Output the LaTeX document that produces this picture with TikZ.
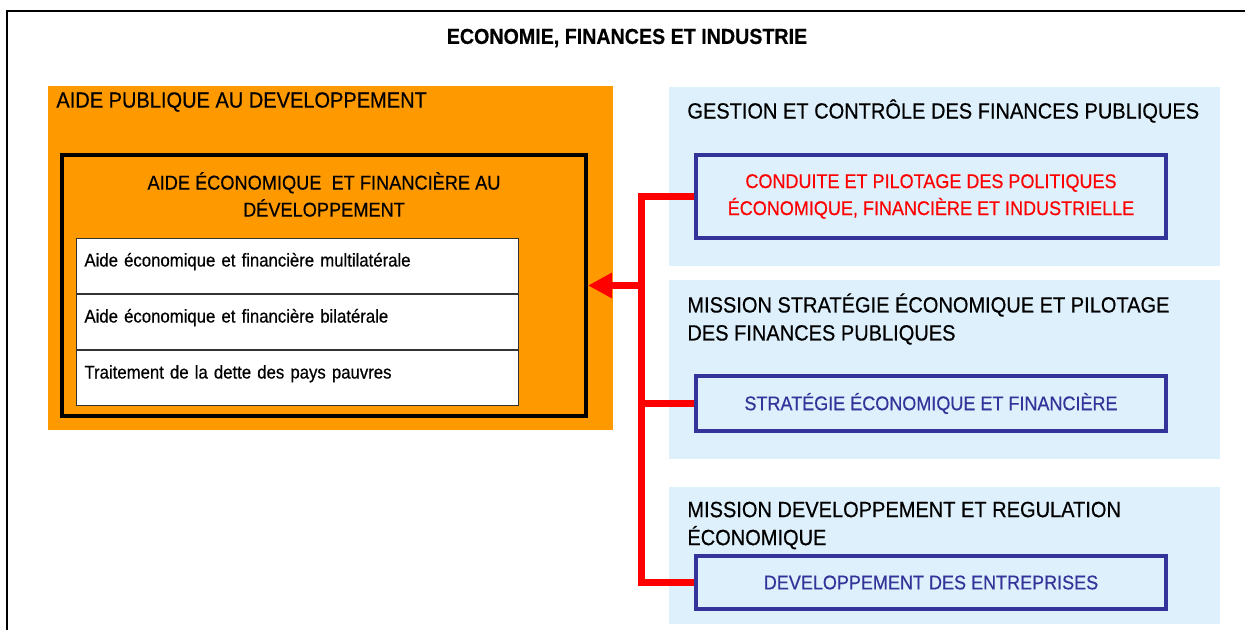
\documentclass[tikz,border=0pt]{standalone}
\usepackage{fontspec}
\setmainfont{Liberation Sans}[FakeStretch=0.91, FakeBold=0.5]
\usepackage{tikz}
\usetikzlibrary{positioning,arrows.meta}
\definecolor{aporange}{HTML}{FF9900}
\definecolor{paleblue}{HTML}{DDF0FC}
\definecolor{navyline}{HTML}{333399}

\begin{document}
\begin{tikzpicture}[x=0.5pt,y=-0.5pt,
    panelnode/.style={fill=paleblue, draw=none, anchor=north west, inner sep=0pt, minimum width=275.5pt},
    progbox/.style={draw=navyline, line width=2pt, fill=paleblue, minimum width=235pt, align=center, font=\fontsize{9.9}{13.5}\selectfont},
    rowbox/.style={draw=black!80, line width=0.5pt, fill=white, minimum width=221pt, minimum height=27.5pt, text width=213pt, inner xsep=4pt, inner ysep=0pt, text height=7pt, text depth=6.5pt, align=left, font=\fontsize{9.2}{11}\selectfont},
    headtext/.style={anchor=west, align=left, inner sep=0pt, font=\fontsize{11}{14}\selectfont},
    redline/.style={draw=red, line width=3.5pt}]
    \useasboundingbox (0,0) rectangle (1245,630);

    %Frame
    \draw[line width=1pt] (7,630) -- (7,11) -- (1245,11);
    \node[font=\bfseries\fontsize{10.8}{12}\selectfont] (ministry) at (627,38) {ECONOMIE, FINANCES ET INDUSTRIE};

    %Left side
    \node[fill=aporange, anchor=north west, inner sep=0pt, minimum width=282.5pt, minimum height=172pt] (apd) at (48,86) {};
    \node[headtext] (apdtitle) at (56,102) {AIDE PUBLIQUE AU DEVELOPPEMENT};
    \node[draw=black, line width=2pt, minimum width=262pt, minimum height=130.5pt] (aid) at (324,285.5) {};
    \node[align=center, font=\fontsize{10}{13.5}\selectfont] (aidtitle) at (324,194.5) {AIDE ÉCONOMIQUE \ ET FINANCIÈRE AU\\DÉVELOPPEMENT};
    \node[rowbox, anchor=north west] (r1) at (76,238) {Aide économique et financière multilatérale};
    \node[rowbox, below=0pt of r1] (r2) {Aide économique et financière bilatérale};
    \node[rowbox, below=0pt of r2] (r3) {Traitement de la dette des pays pauvres};

    %Right side
    \node[panelnode, minimum height=89.5pt] (p1) at (669,87) {};
    \node[panelnode, minimum height=89.5pt] (p2) at (669,280) {};
    \node[panelnode, minimum height=68.5pt] (p3) at (669,487) {};
    \node[headtext] (p1title) at (687,111) {GESTION ET CONTRÔLE DES FINANCES PUBLIQUES};
    \node[headtext] (p2title) at (687,319) {MISSION STRATÉGIE ÉCONOMIQUE ET PILOTAGE\\DES FINANCES PUBLIQUES};
    \node[headtext] (p3title) at (687,525.5) {MISSION DEVELOPPEMENT ET REGULATION\\ÉCONOMIQUE};
    \node[progbox, minimum height=41.5pt, text=red] (b1) at (931,196.5) {CONDUITE ET PILOTAGE DES POLITIQUES\\ÉCONOMIQUE, FINANCIÈRE ET INDUSTRIELLE};
    \node[progbox, minimum height=27.5pt, text=navyline] (b2) at (931,403.5) {STRATÉGIE ÉCONOMIQUE ET FINANCIÈRE};
    \node[progbox, minimum height=26.5pt, text=navyline] (b3) at (931,582.5) {DEVELOPPEMENT DES ENTREPRISES};

    %Lines
    \coordinate (spine) at (641,196.5);
    \draw[redline] (b1.west) -- (b1.west -| spine) -- (b3.west -| spine) -- (b3.west);
    \draw[redline] (b2.west) -- (b2.west -| spine);
    \draw[redline, -{Triangle[length=12pt, width=12pt]}] (aid.east -| spine) -- (aid.east);
\end{tikzpicture}
\end{document}
